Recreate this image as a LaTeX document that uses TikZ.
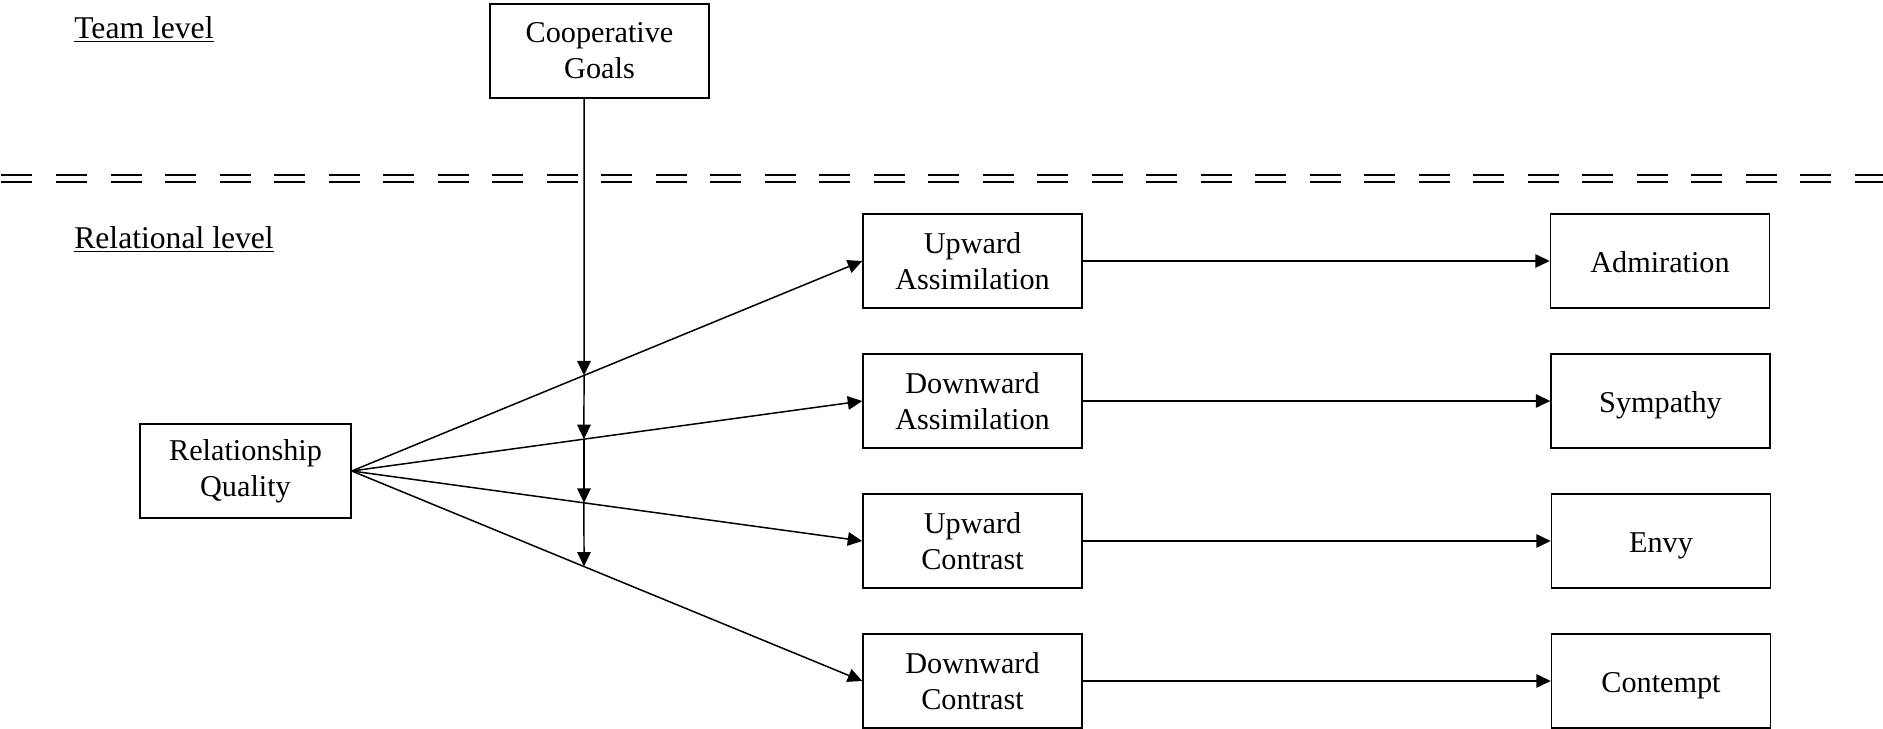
\documentclass[tikz,border=0pt]{standalone}
\usepackage{fontspec}
\setmainfont{Liberation Serif}
\usetikzlibrary{arrows.meta}

\begin{document}
\begin{tikzpicture}[
  box/.style={draw, line width=0.85pt, minimum width=4.38cm, minimum height=1.88cm,
    inner sep=0pt, align=center, font=\fontsize{17.2}{20.5}\selectfont},
  one/.style={box, text height=0.7cm, text depth=0.24cm},
  arr/.style={-{Triangle[length=0.29cm, width=0.27cm]}, line width=0.85pt},
  lvl/.style={anchor=base west, inner sep=0pt, font=\fontsize{18}{21}\selectfont},
  sep/.style={line width=1.3pt, dash pattern=on 0.62cm off 0.47cm}
]
  \useasboundingbox (0,0) rectangle (37.66,14.58);

  % Level labels
  \node[lvl] (team) at (1.48,13.81) {\underline{Team level}};
  \node[lvl] (rel) at (1.48,9.61) {\underline{Relational level}};

  % Double dashed separator
  \foreach \y in {11.08,10.946} {
    \draw[sep] (0.03,\y) -- (37.66,\y);
  }

  % Boxes
  \node[box] (cg) at (11.99,13.56) {Cooperative\\Goals};
  \node[box, minimum width=4.22cm] (rq) at (4.91,5.16) {Relationship\\Quality};
  \node[box] (ua) at (19.45,9.36) {Upward\\Assimilation};
  \node[box] (da) at (19.45,6.56) {Downward\\Assimilation};
  \node[box] (uc) at (19.45,3.76) {Upward\\Contrast};
  \node[box] (dc) at (19.45,0.96) {Downward\\Contrast};
  \node[one] (adm) at (33.20,9.36) {Admiration};
  \node[one] (sym) at (33.21,6.56) {Sympathy};
  \node[one] (envy) at (33.22,3.76) {Envy};
  \node[one] (cont) at (33.22,0.96) {Contempt};

  % Comparison paths
  \foreach \b in {ua,da,uc,dc} {
    \draw[arr] (rq.east) -- (\b.west);
  }
  \foreach \a/\b in {ua/adm,da/sym,uc/envy,dc/cont} {
    \draw[arr] (\a.east) -- (\b.west);
  }

  % Moderation by cooperative goals
  \coordinate (cgo) at ([xshift=-0.31cm]cg.south);
  \coordinate (cgb) at (cgo |- dc.south);
  \foreach \b/\n in {ua/1,da/2,uc/3,dc/4} {
    \coordinate (m\n) at (intersection of cgo--cgb and rq.east--\b.west);
  }
  \draw[arr] (cgo) -- (m1);
  \draw[arr] (m1) -- (m2);
  \draw[arr] (m2) -- (m3);
  \draw[arr] (m3) -- (m4);
\end{tikzpicture}
\end{document}
